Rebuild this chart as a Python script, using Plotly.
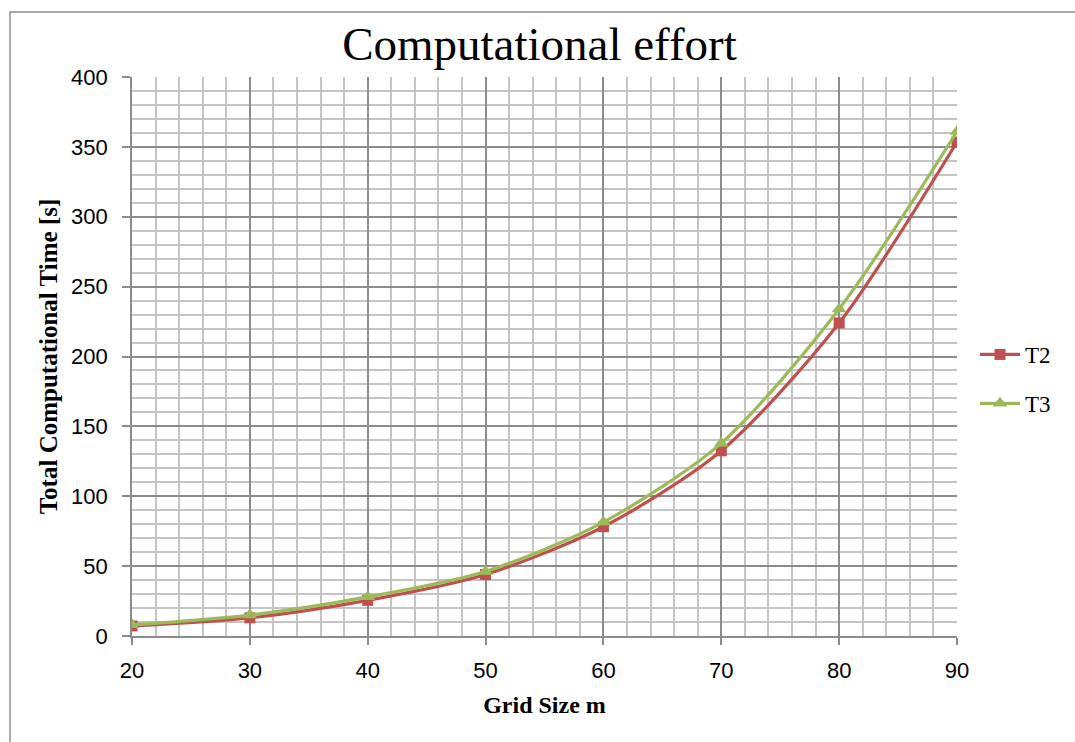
import plotly.graph_objects as go

grid_size = [20, 30, 40, 50, 60, 70, 80, 90]
t2 = [7.2, 13.0, 25.5, 44.0, 78.2, 132.5, 224.0, 353.5]
t3 = [8.0, 15.0, 28.0, 46.2, 81.5, 138.0, 234.0, 361.0]

fig = go.Figure()
fig.add_trace(go.Scatter(
    x=grid_size, y=t2, name="T2", mode="lines+markers", legendgroup="a",
    line=dict(color="#C0504D", width=3.2, shape="spline", smoothing=0.8),
    marker=dict(symbol="square", size=11, color="#C0504D"),
))
fig.add_trace(go.Scatter(
    x=grid_size, y=t3, name="T3", mode="lines+markers", legendgroup="b",
    line=dict(color="#9BBB59", width=3.2, shape="spline", smoothing=0.8),
    marker=dict(symbol="triangle-up", size=13, color="#9BBB59"),
))

W, H = 1075, 742
L, R, T, B = 132, 957, 77, 636
pw, ph = R - L, B - T

def px(x):
    return (x - L) / pw

def py(y):
    return (B - y) / ph

fig.update_layout(
    width=W, height=H,
    margin=dict(l=L, r=W - R, t=T, b=H - B),
    paper_bgcolor="white", plot_bgcolor="white",
    title=dict(text="Computational effort", x=px(546), xanchor="center",
               y=1 - 44 / H, yanchor="middle",
               font=dict(family="Liberation Serif", size=47, color="black")),
    showlegend=True,
    legend=dict(x=px(975), y=py(333), xanchor="left", yanchor="top",
                font=dict(family="Liberation Serif", size=23, color="black"),
                bgcolor="rgba(0,0,0,0)", tracegroupgap=16, itemwidth=40),
    shapes=[dict(type="rect", xref="paper", yref="paper",
                 x0=px(10), x1=px(1085), y0=py(760), y1=py(12),
                 line=dict(color="#8C8C8C", width=1.5), fillcolor="rgba(0,0,0,0)",
                 layer="below")],
)

fig.update_xaxes(
    range=[20, 90], dtick=10, tick0=20,
    showgrid=True, gridcolor="#8C8C8C", gridwidth=1.6,
    minor=dict(dtick=2, showgrid=True, gridcolor="#C4C4C4", gridwidth=1.6),
    showline=True, linecolor="#8C8C8C", linewidth=1.6,
    ticks="outside", ticklen=7, tickcolor="#8C8C8C", tickwidth=1.6,
    ticklabelstandoff=7,
    tickfont=dict(family="Liberation Sans", size=22, color="black"),
    title=dict(text="<b>Grid Size m</b>", standoff=14,
               font=dict(family="Liberation Serif", size=24, color="black")),
    zeroline=False,
)
fig.update_yaxes(
    range=[0, 400], dtick=50,
    showgrid=True, gridcolor="#8C8C8C", gridwidth=1.6,
    minor=dict(dtick=10, showgrid=True, gridcolor="#C4C4C4", gridwidth=1.6),
    showline=True, linecolor="#8C8C8C", linewidth=1.6,
    ticks="outside", ticklen=8, tickcolor="#8C8C8C", tickwidth=1.6,
    ticklabelstandoff=10,
    tickfont=dict(family="Liberation Sans", size=22, color="black"),
    title=dict(text="<b>Total Computational Time [s]</b>", standoff=6,
               font=dict(family="Liberation Serif", size=25, color="black")),
    zeroline=False,
)

fig.write_html("out.html")
